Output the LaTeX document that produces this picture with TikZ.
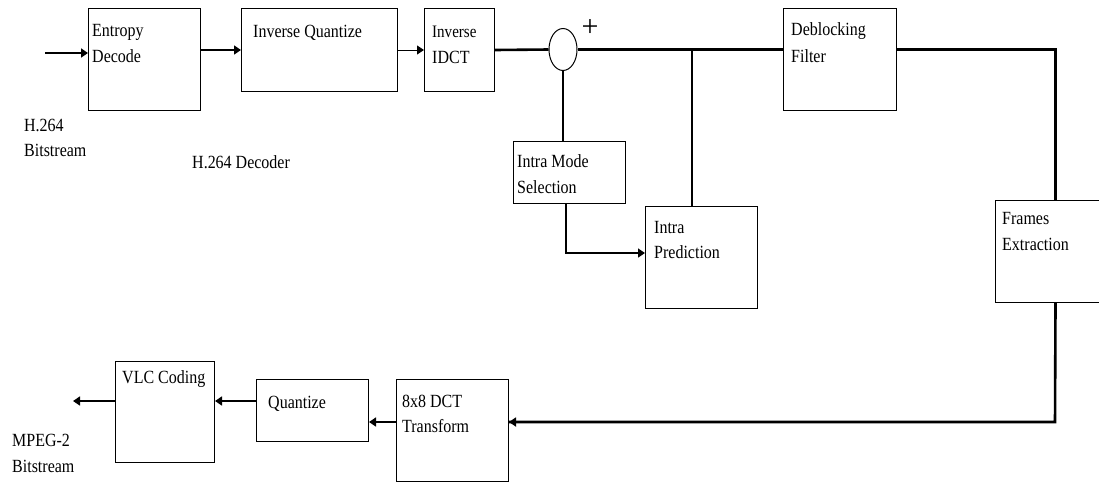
\documentclass[tikz,border=0pt]{standalone}
\usepackage{fontspec}
\setmainfont{Liberation Serif}[FakeStretch=0.86]
\newfontfamily\plainserif{Liberation Serif}
\usetikzlibrary{arrows.meta,shapes.geometric}
\begin{document}
\begin{tikzpicture}[x=1pt,y=-1pt,
  box/.style={draw, line width=1pt, inner sep=0pt, anchor=north west},
  txt/.style={anchor=base west, inner sep=0pt, font=\fontsize{18.6}{22}\selectfont},
  tip/.style={-{Triangle[length=7pt,width=9pt]}},
  thinc/.style={line width=1.3pt},
  thickc/.style={line width=2.6pt}]
\useasboundingbox (0,0) rectangle (1099,483);
\clip (0,0) rectangle (1099,483);
\fill[white] (0,0) rectangle (1099,483);
% boxes
\node[box, minimum width=112pt, minimum height=102pt] (ent) at (88,8) {};
\node[box, minimum width=156pt, minimum height=83pt] (iq) at (241,8) {};
\node[box, minimum width=70pt, minimum height=83pt] (idct) at (424,8) {};
\node[draw, line width=1pt, ellipse, inner sep=0pt, minimum width=28pt, minimum height=42pt] (sum) at (563,49.5) {};
\node[box, minimum width=113pt, minimum height=102pt] (deb) at (783,8) {};
\node[box, minimum width=112pt, minimum height=62pt] (ims) at (513,141) {};
\node[box, minimum width=112pt, minimum height=102pt] (ip) at (645,206) {};
\node[box, minimum width=120pt, minimum height=102pt] (fr) at (995,200) {};
\node[box, minimum width=112pt, minimum height=102pt] (dct) at (396,379) {};
\node[box, minimum width=112pt, minimum height=62pt] (q) at (256,379) {};
\node[box, minimum width=99pt, minimum height=101pt] (vlc) at (115,361) {};
% texts
\node[txt] (t1a) at (92,36) {Entropy};
\node[txt] (t1b) at (92,62) {Decode};
\node[txt] (t2) at (253,37) {Inverse Quantize};
\node[txt, font=\fontsize{17.5}{21}\selectfont] (t3a) at (432,37) {Inverse};
\node[txt] (t3b) at (432,63) {IDCT};
\node[inner sep=0pt, font=\plainserif\fontsize{30}{34}\selectfont] (plus) at (590,28) {+};
\node[txt] (t4a) at (791,35) {Deblocking};
\node[txt] (t4b) at (791,62) {Filter};
\node[txt] (t5a) at (517,167) {Intra Mode};
\node[txt] (t5b) at (517,193) {Selection};
\node[txt] (t6a) at (654,233) {Intra};
\node[txt] (t6b) at (654,258) {Prediction};
\node[txt] (t7a) at (1002,224) {Frames};
\node[txt] (t7b) at (1002,250) {Extraction};
\node[txt] (t8) at (122,383) {VLC Coding};
\node[txt] (t9) at (268,408) {Quantize};
\node[txt] (t10a) at (402,407) {8x8 DCT};
\node[txt] (t10b) at (402,432) {Transform};
\node[txt] (t11a) at (12,446) {MPEG-2};
\node[txt] (t11b) at (12,472) {Bitstream};
\node[txt] (t12a) at (24,131) {H.264};
\node[txt] (t12b) at (24,156) {Bitstream};
\node[txt] (t13) at (192,168) {H.264 Decoder};
% helper coordinates
\coordinate (in) at (45,53);
\coordinate (j) at (692,49.5);
\coordinate (c1) at (566,253);
\coordinate (lp) at (1055,422);
\coordinate (lq) at (0,401);
\coordinate (out) at (73,401);
% connectors
\draw[thickc, tip] (in) -- (ent.west |- in);
\draw[line width=1.5pt, tip] (ent.east |- iq.west) -- (iq.west);
\draw[line width=1pt, tip] (iq.east) -- (idct.west);
\draw[thickc] (idct.east) -- (sum.west);
\draw[thickc] (sum.east) -- (deb.west |- sum.east);
\draw[thickc] (deb.east |- sum.east) -| (fr.north);
\draw[thinc] (sum.south) -- (ims.north -| sum.south);
\draw[thinc, tip] (ims.south -| c1) |- (ip.west |- c1);
\draw[thinc] (ip.north -| j) -- (j);
\draw[thickc] (fr.south) -- (lp) -- (lp -| dct.east);
\draw[thickc, tip] (lp -| dct.east) ++(30,0) -- (dct.east |- lp);
\draw[line width=1.5pt, tip] (dct.west |- lp) -- (q.east |- lp);
\draw[line width=1.5pt, tip] (q.west |- lq) -- (vlc.east |- lq);
\draw[line width=1.5pt, tip] (vlc.west |- lq) -- (out);
\end{tikzpicture}
\end{document}
